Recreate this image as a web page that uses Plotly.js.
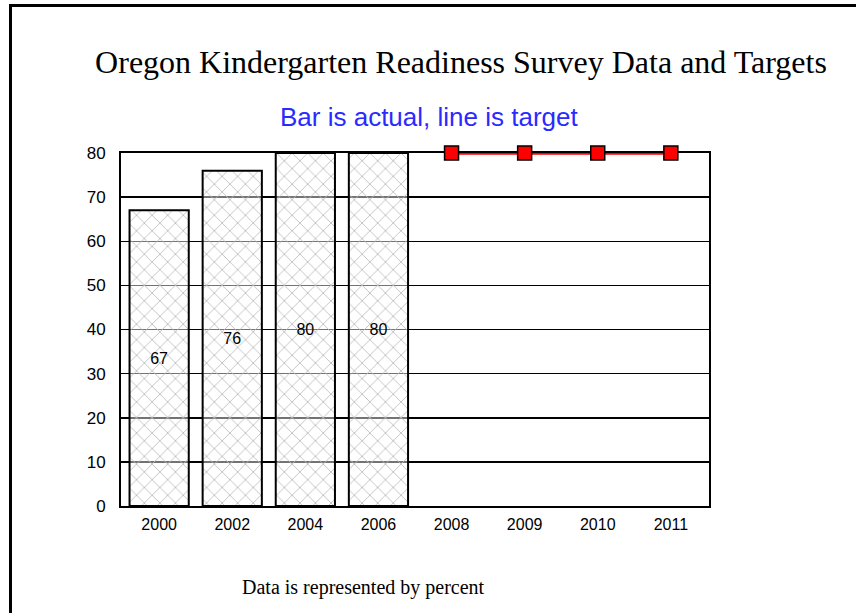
<!DOCTYPE html>
<html>
<head>
<meta charset="utf-8">
<script src="https://cdn.plot.ly/plotly-3.0.1.min.js"></script>
<style>
html,body{margin:0;padding:0;background:#fff;}
#chart{width:856px;height:613px;}
</style>
</head>
<body>
<div id="chart"></div>
<script>
const years = ['2000','2002','2004','2006','2008','2009','2010','2011'];
const actual = [67, 76, 80, 80, null, null, null, null];
const target = [null, null, null, null, 80, 80, 80, 80];
const yTicks = [0,10,20,30,40,50,60,70,80];

const titleText = 'Oregon Kindergarten Readiness Survey Data and Targets';
const subtitleText = 'Bar is actual, line is target';
const footerText = 'Data is represented by percent';

const bars = {
  type: 'bar',
  x: years,
  y: actual,
  text: actual.map(v => v === null ? '' : String(v)),
  textposition: 'inside',
  insidetextanchor: 'middle',
  textangle: 0,
  constraintext: 'none',
  textfont: {family: 'Liberation Sans, Arial, sans-serif', size: 16, color: '#000'},
  marker: {
    color: '#b4b4b4',
    line: {color: '#000', width: 2},
    pattern: {shape: 'x', size: 11, solidity: 0.15, bgcolor: 'rgba(255,255,255,0.45)', fgcolor: '#bcbcbc'}
  },
  hoverinfo: 'x+y',
  showlegend: false
};

const line = {
  type: 'scatter',
  mode: 'lines+markers',
  x: years,
  y: target,
  cliponaxis: false,
  line: {color: '#ff0000', width: 3.5},
  marker: {symbol: 'square', size: 14, color: '#ff0000', line: {color: '#000', width: 1.5}},
  showlegend: false
};

const L = 121, R = 709, T = 153, B = 506, W = 856, H = 613;
const px = v => (v - L) / (R - L);
const py = v => (B - v) / (B - T);

const layout = {
  width: W, height: H,
  margin: {l: L, r: W - R, t: T, b: H - B, pad: 0},
  paper_bgcolor: '#fff',
  plot_bgcolor: '#fff',
  bargap: 0.19,
  title: {
    text: titleText,
    font: {family: 'Liberation Serif, Times New Roman, serif', size: 32, color: '#000'},
    xref: 'container', yref: 'container',
    x: 461 / W, y: 1 - 62 / H, xanchor: 'center', yanchor: 'middle'
  },
  xaxis: {
    type: 'category',
    categoryorder: 'array', categoryarray: years,
    showgrid: false,
    showline: true, linecolor: '#000', linewidth: 2, mirror: true,
    layer: 'below traces',
    ticks: '',
    tickfont: {family: 'Liberation Sans, Arial, sans-serif', size: 16, color: '#000'},
    ticklabelstandoff: 3,
    zeroline: false, fixedrange: true
  },
  yaxis: {
    range: [0, 80],
    tickvals: yTicks,
    ticktext: yTicks.map(String),
    showgrid: true, gridcolor: '#000', gridwidth: 1.5,
    showline: true, linecolor: '#000', linewidth: 2, mirror: true,
    layer: 'below traces',
    ticks: '',
    ticklabelstandoff: 10,
    tickfont: {family: 'Liberation Sans, Arial, sans-serif', size: 17, color: '#000'},
    zeroline: false, fixedrange: true
  },
  annotations: [
    {text: subtitleText, xref: 'paper', yref: 'paper', x: px(429), y: py(117),
     xanchor: 'center', yanchor: 'middle', showarrow: false,
     font: {family: 'Liberation Sans, Arial, sans-serif', size: 26, color: '#2a2aff'}},
    {text: footerText, xref: 'paper', yref: 'paper', x: px(363), y: py(587),
     xanchor: 'center', yanchor: 'middle', showarrow: false,
     font: {family: 'Liberation Serif, Times New Roman, serif', size: 20, color: '#000'}}
  ],
  shapes: [
    {type: 'line', xref: 'paper', yref: 'paper', x0: px(10.5), x1: px(10.5), y0: py(4), y1: py(H + 2),
     line: {color: '#000', width: 3}},
    {type: 'line', xref: 'paper', yref: 'paper', x0: px(9), x1: px(W + 2), y0: py(5.5), y1: py(5.5),
     line: {color: '#000', width: 3}}
  ]
};

Plotly.newPlot('chart', [bars, line], layout, {displayModeBar: false, staticPlot: true});
</script>
</body>
</html>
